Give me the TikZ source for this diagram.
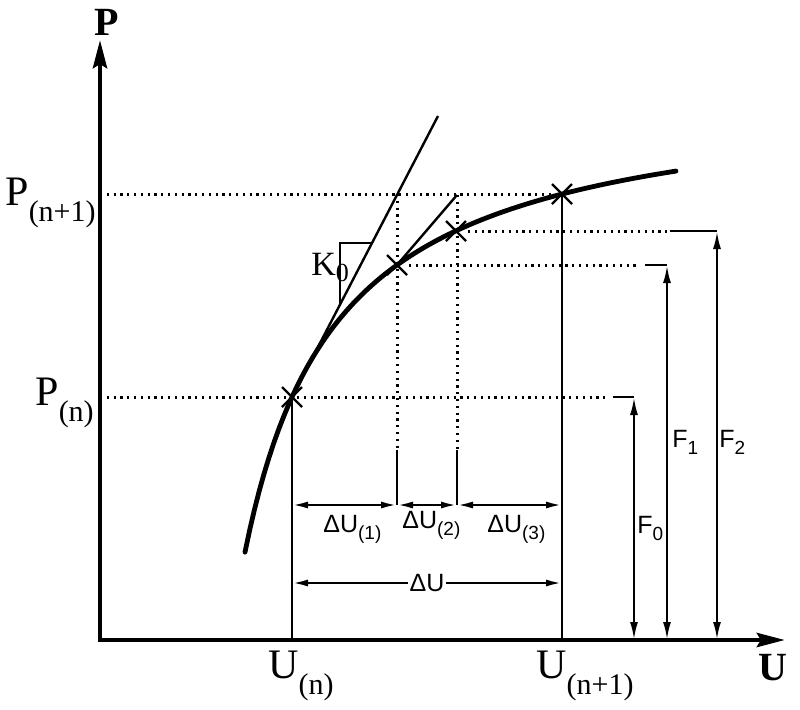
\documentclass[tikz,border=0pt]{standalone}
\usepackage{fontspec}
\setmainfont{Liberation Serif}
\newfontfamily\arialfont{Liberation Sans}
\usepackage{tikz}
\usetikzlibrary{arrows.meta,calc}
\definecolor{ink}{HTML}{000000}
\newcommand{\serifidx}[1]{\raisebox{-8pt}{\fontsize{15}{15}\selectfont #1}}
\newcommand{\sansidx}[1]{\raisebox{-3.5pt}{\fontsize{9.5}{9.5}\selectfont #1}}
\tikzset{
  axisLine/.style={draw=ink, line width=2.4pt, line join=miter,
    {Stealth[length=14pt,width=7pt,inset=2pt]}-{Stealth[length=14pt,width=7pt,inset=2pt]}},
  curveLine/.style={draw=ink, line width=2.4pt, line cap=round},
  thinLine/.style={draw=ink, line width=1.2pt},
  dotLine/.style={draw=ink, line width=1.5pt, dash pattern=on 1.1pt off 2.3pt},
  dimArrow/.style={thinLine, {Latex[length=8pt,width=3.5pt]}-{Latex[length=8pt,width=3.5pt]}},
  forceArrow/.style={thinLine, {Latex[length=9pt,width=4pt]}-{Latex[length=9pt,width=4pt]}},
  serifLabel/.style={text=ink, font=\fontsize{21}{21}\selectfont, inner sep=0pt},
  axisLabel/.style={text=ink, font=\fontsize{20}{20}\selectfont\bfseries, inner sep=0pt},
  sansLabel/.style={text=ink, font=\arialfont\fontsize{12.5}{12.5}\selectfont, inner sep=0pt}
}
\begin{document}
\begin{tikzpicture}[x=0.5pt,y=-0.5pt]
  \useasboundingbox (0,0) rectangle (800,709);
  \coordinate (O) at (100,640);
  \coordinate (yTop) at (100,40);
  \coordinate (xEnd) at (785,640);
  % points on the curve
  \coordinate (pN) at (292,397);
  \coordinate (pA) at (397,265);
  \coordinate (pB) at (456,231);
  \coordinate (pM) at (562,194);
  % tangents
  \coordinate (tanA) at (438,116);
  \coordinate (tanB) at (457,195);
  \coordinate (k0Low) at (340,305);
  \coordinate (k0Up) at (340,243);
  \coordinate (k0Tip) at (372,243);
  % dimension levels
  \coordinate (d0) at (292,505);
  \coordinate (d1) at (397,505);
  \coordinate (d2) at (457,505);
  \coordinate (d3) at (562,505);
  \coordinate (e0) at (292,583);
  \coordinate (e3) at (562,583);
  \coordinate (v1) at (397,450);
  \coordinate (v2) at (457,450);
  % force tops
  \coordinate (f0Top) at (634,397);
  \coordinate (f1Top) at (667,265);
  \coordinate (f2Top) at (717,231);

  % axes
  \draw[axisLine] (yTop) -- (O) -- (xEnd);
  \node[axisLabel] (pAxis) at (107,22) {P};
  \node[axisLabel] (uAxis) at (773,668) {U};

  % dotted levels
  \draw[dotLine] (pM -| O) -- (pM);
  \draw[dotLine] (pN -| O) -- ($(f0Top)+(-27,0)$);
  \draw[thinLine] ($(f0Top)+(-21,0)$) -- (f0Top);
  \draw[dotLine] ($(pA)+(12,0)$) -- ($(f1Top)+(-29,0)$);
  \draw[thinLine] ($(f1Top)+(-22,0)$) -- (f1Top);
  \draw[dotLine] ($(pB)+(12,0)$) -- ($(f2Top)+(-49,0)$);
  \draw[thinLine] ($(f2Top)+(-47,0)$) -- (f2Top);

  % verticals
  \draw[thinLine] (pN) -- (pN |- O);
  \draw[thinLine] (pM) -- (pM |- O);
  \draw[dotLine] (pA |- pM) -- (v1);
  \draw[thinLine] (v1) -- (d1);
  \draw[dotLine] (tanB) -- (v2);
  \draw[thinLine] (v2) -- (d2);

  % tangents and K0
  \draw[thinLine] (pN) -- (tanA);
  \draw[thinLine] (pA) -- (tanB);
  \draw[thinLine] (k0Low) -- (k0Up) -- (k0Tip);
  \node[serifLabel, font=\fontsize{17}{17}\selectfont, anchor=base west] (k0) at (311,275) {K\raisebox{-3pt}{\fontsize{13}{13}\selectfont 0}};

  % curve
  \draw[curveLine] plot[domain=245:676, samples=90] (\x, {640-(551.6-433.62/((\x-151.5)/100))});

  % cross marks
  \foreach \p in {pN,pA,pB,pM}
    \draw[thinLine] ($(\p)+(-10,-10)$) -- ($(\p)+(10,10)$)
                    ($(\p)+(-10,10)$) -- ($(\p)+(10,-10)$);

  % increments
  \draw[dimArrow] (d0) -- (d1);
  \draw[dimArrow] (d1) -- (d2);
  \draw[dimArrow] (d2) -- (d3);
  \draw[dimArrow] (e0) -- (e3);
  \node[sansLabel, anchor=base west] (du1) at (323,532) {ΔU\sansidx{(1)}};
  \node[sansLabel, anchor=base west] (du2) at (402,528) {ΔU\sansidx{(2)}};
  \node[sansLabel, anchor=base west] (du3) at (487,532) {ΔU\sansidx{(3)}};
  \node[sansLabel, fill=white, inner sep=1pt] (du) at ($(e0)!0.5!(e3)$) {ΔU};

  % forces
  \draw[forceArrow] (f0Top |- O) -- (f0Top);
  \draw[forceArrow] (f1Top |- O) -- (f1Top);
  \draw[forceArrow] (f2Top |- O) -- (f2Top);
  \node[sansLabel, anchor=base west] (f0) at (637,533) {F\sansidx{0}};
  \node[sansLabel, anchor=base west] (f1) at (672,447) {F\sansidx{1}};
  \node[sansLabel, anchor=base west] (f2) at (719,447) {F\sansidx{2}};

  % axis values
  \node[serifLabel, anchor=base west] (pn1) at (5,205) {P\serifidx{(n+1)}};
  \node[serifLabel, anchor=base west] (pn) at (35,405) {P\serifidx{(n)}};
  \node[serifLabel, anchor=base west] (un) at (268,678) {U\serifidx{(n)}};
  \node[serifLabel, anchor=base west] (un1) at (536,678) {U\serifidx{(n+1)}};
\end{tikzpicture}
\end{document}
